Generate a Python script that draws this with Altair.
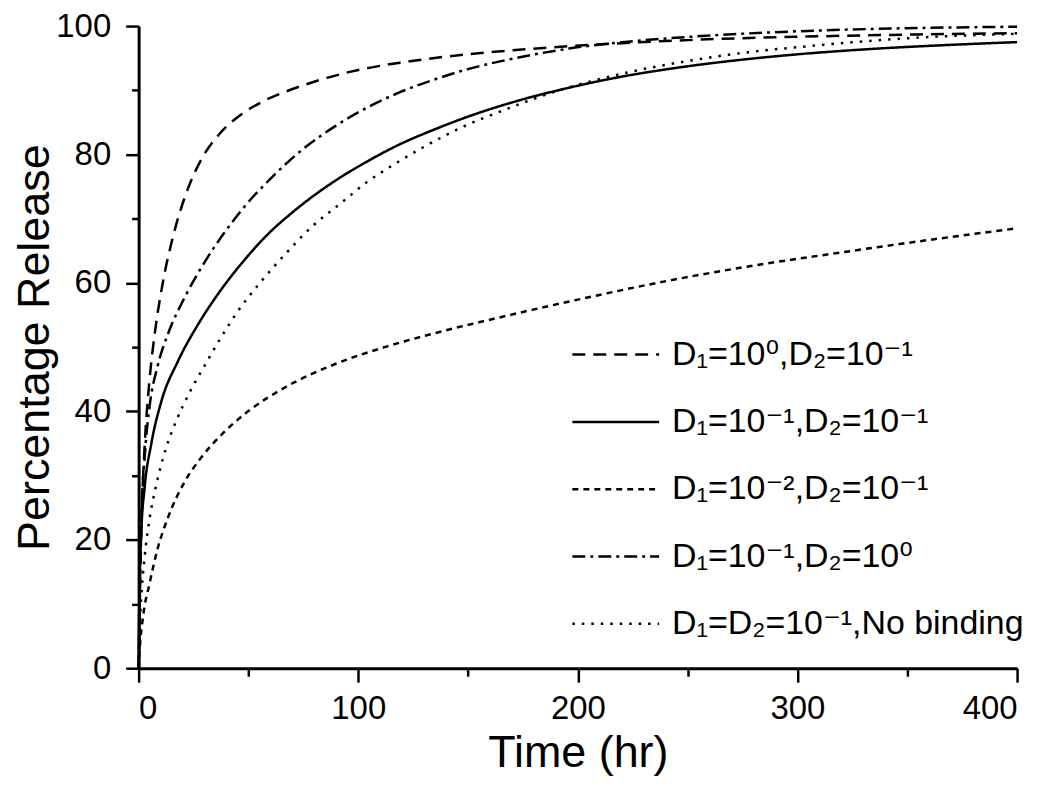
import altair as alt
import pandas as pd

series_names = [
    "D₁=10⁰,D₂=10⁻¹",
    "D₁=10⁻¹,D₂=10⁻¹",
    "D₁=10⁻²,D₂=10⁻¹",
    "D₁=10⁻¹,D₂=10⁰",
    "D₁=D₂=10⁻¹,No binding",
]

# D1=10^0, D2=10^-1 (dashed)
t_a = [0, 1, 2.5, 5, 7.5, 11, 15.5, 21.7, 29, 36.8, 47, 58, 68.6, 80.6, 96.6,
       119, 134, 173, 218, 264, 309, 355, 400]
v_a = [0, 20, 33, 45, 52.5, 60, 67, 74, 79.5, 83.2, 86.3, 88.5, 90.0, 91.4, 92.9,
       94.3, 95.0, 96.3, 97.3, 98.0, 98.4, 98.7, 98.9]

# D1=10^-1, D2=10^-1 (solid)
t_b = [0, 0.3, 1.2, 2.7, 5.8, 10.3, 17.9, 27, 36, 48, 58.6, 70.8, 89, 104, 119, 134,
       150, 173, 196, 218, 241, 273, 300, 332, 365, 400]
v_b = [0, 10, 21, 28, 35, 41.5, 47.8, 53.5, 58.2, 63.5, 67.5, 71.2, 75.8, 78.9, 81.6, 83.8,
       85.9, 88.4, 90.4, 92.0, 93.3, 94.7, 95.6, 96.4, 97.0, 97.5]

# D1=10^-2, D2=10^-1 (short dash)
t_c = [0, 0.5, 2, 5, 8.8, 13.3, 20.9, 28.5, 39, 51, 66, 89, 112, 134, 164, 200, 242,
       280, 321, 360, 400]
v_c = [0, 3, 8, 13.2, 18.8, 23.4, 29, 32.8, 36.8, 40.3, 43.6, 47.3, 50.0, 52.1, 54.6,
       57.4, 60.4, 62.7, 64.8, 66.7, 68.5]

# D1=10^-1, D2=10^0 (dash-dot)
t_d = [0, 1.5, 3, 5, 8.6, 13.3, 20.9, 30, 39, 48, 61.7, 74, 89, 104, 119, 134, 150,
       173, 196, 218, 264, 309, 355, 400]
v_d = [0, 25, 34, 40.8, 47, 52, 57.7, 63.2, 67.8, 71.8, 76.8, 80.6, 84.3, 87.3, 89.7,
       91.6, 93.3, 95.1, 96.5, 97.4, 98.6, 99.3, 99.7, 99.9]

# D1=D2=10^-1, no binding (dotted)
t_e = [0, 0.5, 1.2, 2.7, 5, 8, 12.6, 17.1, 23, 30, 37.5, 45, 55.7, 66.3, 78.4, 92, 104,
       116, 130, 147, 167, 187, 206, 230, 249, 268, 309, 355, 400]
v_e = [0, 6, 11, 17.2, 23.3, 28.5, 34.4, 38.5, 42.8, 47.1, 51.5, 55.5, 60.2, 64.3, 68.6,
       72.4, 75.7, 78.4, 81.2, 84.2, 87, 89.5, 91.4, 93.3, 94.5, 95.5, 97.0, 98.2, 98.8]

x_ticks = [0, 50, 100, 150, 200, 250, 300, 350, 400]
y_ticks = [0, 10, 20, 30, 40, 50, 60, 70, 80, 90, 100]

rows = []
for name, ts, vs in zip(series_names, [t_a, t_b, t_c, t_d, t_e], [v_a, v_b, v_c, v_d, v_e]):
    for i, (t, v) in enumerate(zip(ts, vs)):
        rows.append({"series": name, "t": t, "v": v, "order": i})
df = pd.DataFrame(rows)

dash_range = [[13, 8], [1, 0], [6, 5], [13, 5, 3, 5], [2.5, 7]]

font = "Liberation Sans, Arial, DejaVu Sans"

chart = alt.Chart(df).mark_line(color="black", strokeWidth=2.5, interpolate="monotone").encode(
    x=alt.X("t:Q", scale=alt.Scale(domain=[0, 400], nice=False),
            axis=alt.Axis(title="Time (hr)", values=x_ticks,
                          labelExpr="datum.value % 100 == 0 ? datum.label : ''",
                          tickSize={"condition": {"test": "datum.value % 100 == 0", "value": 14}, "value": 8},
                          labelPadding=10, titlePadding=6)),
    y=alt.Y("v:Q", scale=alt.Scale(domain=[0, 100], nice=False),
            axis=alt.Axis(title="Percentage Release", values=y_ticks,
                          labelExpr="datum.value % 20 == 0 ? datum.label : ''",
                          tickSize={"condition": {"test": "datum.value % 20 == 0", "value": 13}, "value": 7},
                          labelPadding=15, titlePadding=-2)),
    strokeDash=alt.StrokeDash("series:N", scale=alt.Scale(domain=series_names, range=dash_range),
                              legend=alt.Legend(title="", orient="none", legendX=448, legendY=299,
                                                symbolType="M-1.5,0H1.5", symbolSize=3364,
                                                symbolStrokeWidth=2.5, symbolStrokeColor="black",
                                                labelFontSize=34, labelFont=font, labelColor="black",
                                                labelOffset=26, rowPadding=19.5, padding=0,
                                                labelLimit=500)),
    order="order:Q",
    detail="series:N",
).properties(
    width=881,
    height=644,
    autosize=alt.AutoSizeParams(type="none"),
    padding={"left": 131, "top": 17, "right": 25, "bottom": 112},
).configure_axis(
    domainColor="black", domainWidth=3, tickColor="black", tickWidth=2.5,
    labelFont=font, labelFontSize=33, labelColor="black",
    titleFont=font, titleFontSize=45, titleColor="black", titleFontWeight="normal",
    grid=False,
).configure_view(stroke=None)

chart.save("out.html", embed_options={"renderer": "svg", "actions": False})
